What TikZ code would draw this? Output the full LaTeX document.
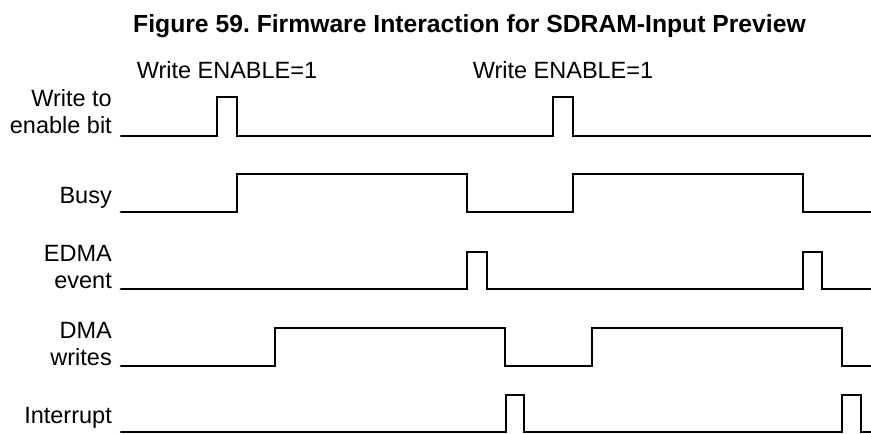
\documentclass[tikz,border=0pt]{standalone}
\usepackage{fontspec}
\setmainfont{Liberation Sans}
\usetikzlibrary{positioning}
\frenchspacing

\begin{document}
\begin{tikzpicture}[
    x=1pt, y=-1pt,
    every node/.style={inner sep=0pt},
    lbl/.style={anchor=base east, align=right,
        font=\fontsize{23.5}{26.5}\selectfont},
    senal/.style={line width=2.9pt, line cap=round}
]
\useasboundingbox (0,0) rectangle (871,434);

% Titulo
\node (tit) at (469.5,32) [anchor=base, font=\fontsize{24.7}{28}\bfseries]
    {Figure 59. Firmware Interaction for SDRAM-Input Preview};

% Escrituras
\node (we1) at (227,78) [anchor=base, font=\fontsize{23.5}{26.5}\selectfont] {Write ENABLE=1};
\node (we2) at (563,78) [anchor=base, font=\fontsize{23.5}{26.5}\selectfont] {Write ENABLE=1};

% Etiquetas (base = ultima linea)
\node (wr) at (112,133) [lbl] {Write to\\enable bit};
\node (busy) at (112,203) [lbl] {Busy};
\node (edma) at (112,288) [lbl] {EDMA\\event};
\node (dma) at (112,365) [lbl] {DMA\\writes};
\node (intr) at (112,423) [lbl] {Interrupt};

% Senales
\draw[senal] (121,136) -- (217,136) -- (217,97) -- (237,97) -- (237,136)
    -- (553,136) -- (553,97) -- (573,97) -- (573,136) -- (871,136);
\draw[senal] (121,212) -- (237,212) -- (237,174) -- (467,174) -- (467,212)
    -- (573,212) -- (573,174) -- (803,174) -- (803,212) -- (871,212);
\draw[senal] (121,289) -- (467,289) -- (467,252) -- (487,252) -- (487,289)
    -- (803,289) -- (803,252) -- (822,252) -- (822,289) -- (871,289);
\draw[senal] (121,366) -- (275,366) -- (275,328) -- (505,328) -- (505,366)
    -- (592,366) -- (592,328) -- (842,328) -- (842,366) -- (871,366);
\draw[senal] (121,432) -- (506,432) -- (506,395) -- (524,395) -- (524,432)
    -- (842,432) -- (842,395) -- (861,395) -- (861,432) -- (871,432);

\end{tikzpicture}
\end{document}
